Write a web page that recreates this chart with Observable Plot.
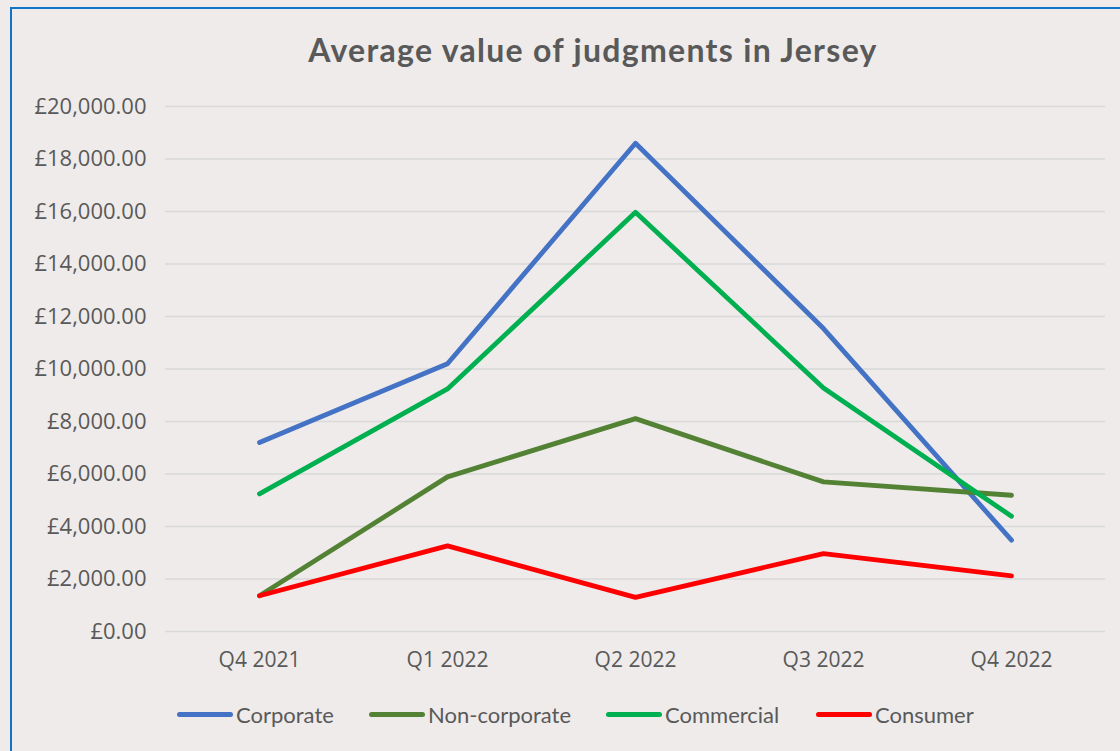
<!DOCTYPE html>
<html>
<head>
<meta charset="utf-8">
<script src="https://cdn.jsdelivr.net/npm/d3@7"></script>
<script src="https://cdn.jsdelivr.net/npm/@observablehq/plot@0.6"></script>
<style>
  html, body { margin: 0; padding: 0; background: #EEEBEA; width: 1120px; height: 751px; overflow: hidden; }
  #frame { position: absolute; left: 10px; top: 7px; width: 1300px; height: 900px;
           border-left: 2.5px solid #0F75C9; border-top: 2.5px solid #0F75C9; box-sizing: border-box; }
  #wrap { position: absolute; left: 0; top: 0; width: 1120px; }
  #title { height: 80px; box-sizing: border-box; padding-top: 31px; text-align: center;
           padding-left: 66px; letter-spacing: 1.3px;
           font-family: "Lato", sans-serif; font-weight: bold; font-size: 32px; color: #595959; line-height: 38px; }
  #chart svg text { font-family: "Open Sans", sans-serif; }
  #legend { position: relative; height: 61px; font-family: "Lato", sans-serif; font-size: 22px; color: #595959; }
  .item { position: absolute; top: 11px; display: flex; align-items: center; }
  .sw { width: 56px; height: 5px; border-radius: 3px; margin-right: 3px; }
</style>
</head>
<body>
<div id="frame"></div>
<div id="wrap">
  <div id="title">Average value of judgments in Jersey</div>
  <div id="chart"></div>
  <div id="legend"></div>
</div>
<script>
const quarters = ["Q4 2021", "Q1 2022", "Q2 2022", "Q3 2022", "Q4 2022"];
const seriesNames = ["Corporate", "Non-corporate", "Commercial", "Consumer"];
const seriesColors = ["#4472C4", "#548235", "#00B050", "#FF0000"];
const corporate    = [7200, 10200, 18600, 11540, 3480];
const nonCorporate = [1360, 5890, 8110, 5700, 5190];
const commercial   = [5240, 9240, 15970, 9280, 4390];
const consumer     = [1360, 3260, 1300, 2970, 2120];
const yTicks = [0, 2000, 4000, 6000, 8000, 10000, 12000, 14000, 16000, 18000, 20000];

const seriesValues = [corporate, nonCorporate, commercial, consumer];
const rows = [];
seriesNames.forEach((s, i) => quarters.forEach((q, j) => rows.push({series: s, quarter: q, value: seriesValues[i][j]})));

const fmt = d3.format(",.2f");
const chart = Plot.plot({
  width: 1120,
  height: 610,
  marginTop: 26,
  marginBottom: 59,
  marginLeft: 165,
  marginRight: 15,
  style: { background: "transparent", fontFamily: "Open Sans, sans-serif", fontSize: "21px", color: "#595959", overflow: "visible" },
  x: { type: "point", domain: quarters, padding: 0.5, label: null },
  y: { domain: [0, 20000], ticks: yTicks, label: null },
  color: { domain: seriesNames, range: seriesColors },
  marks: [
    Plot.gridY(yTicks, { stroke: "#D9D9D9", strokeOpacity: 1, strokeWidth: 1.5 }),
    Plot.axisY(yTicks, { tickSize: 0, tickPadding: 19, tickFormat: d => "£" + fmt(d), fill: "#595959", fontSize: 22, label: null }),
    Plot.axisX({ tickSize: 0, tickPadding: 21, fill: "#595959", fontSize: 21, label: null }),
    Plot.line(rows, { x: "quarter", y: "value", z: "series", stroke: "series", strokeWidth: 4.8, strokeLinecap: "round", strokeLinejoin: "round" })
  ]
});
document.getElementById("chart").appendChild(chart);

const legendX = [177, 369, 606, 816];
const legend = document.getElementById("legend");
seriesNames.forEach((s, i) => {
  const it = document.createElement("div");
  it.className = "item";
  it.style.left = legendX[i] + "px";
  const sw = document.createElement("div");
  sw.className = "sw";
  sw.style.background = seriesColors[i];
  const t = document.createElement("span");
  t.textContent = s;
  it.appendChild(sw); it.appendChild(t);
  legend.appendChild(it);
});
</script>
</body>
</html>
